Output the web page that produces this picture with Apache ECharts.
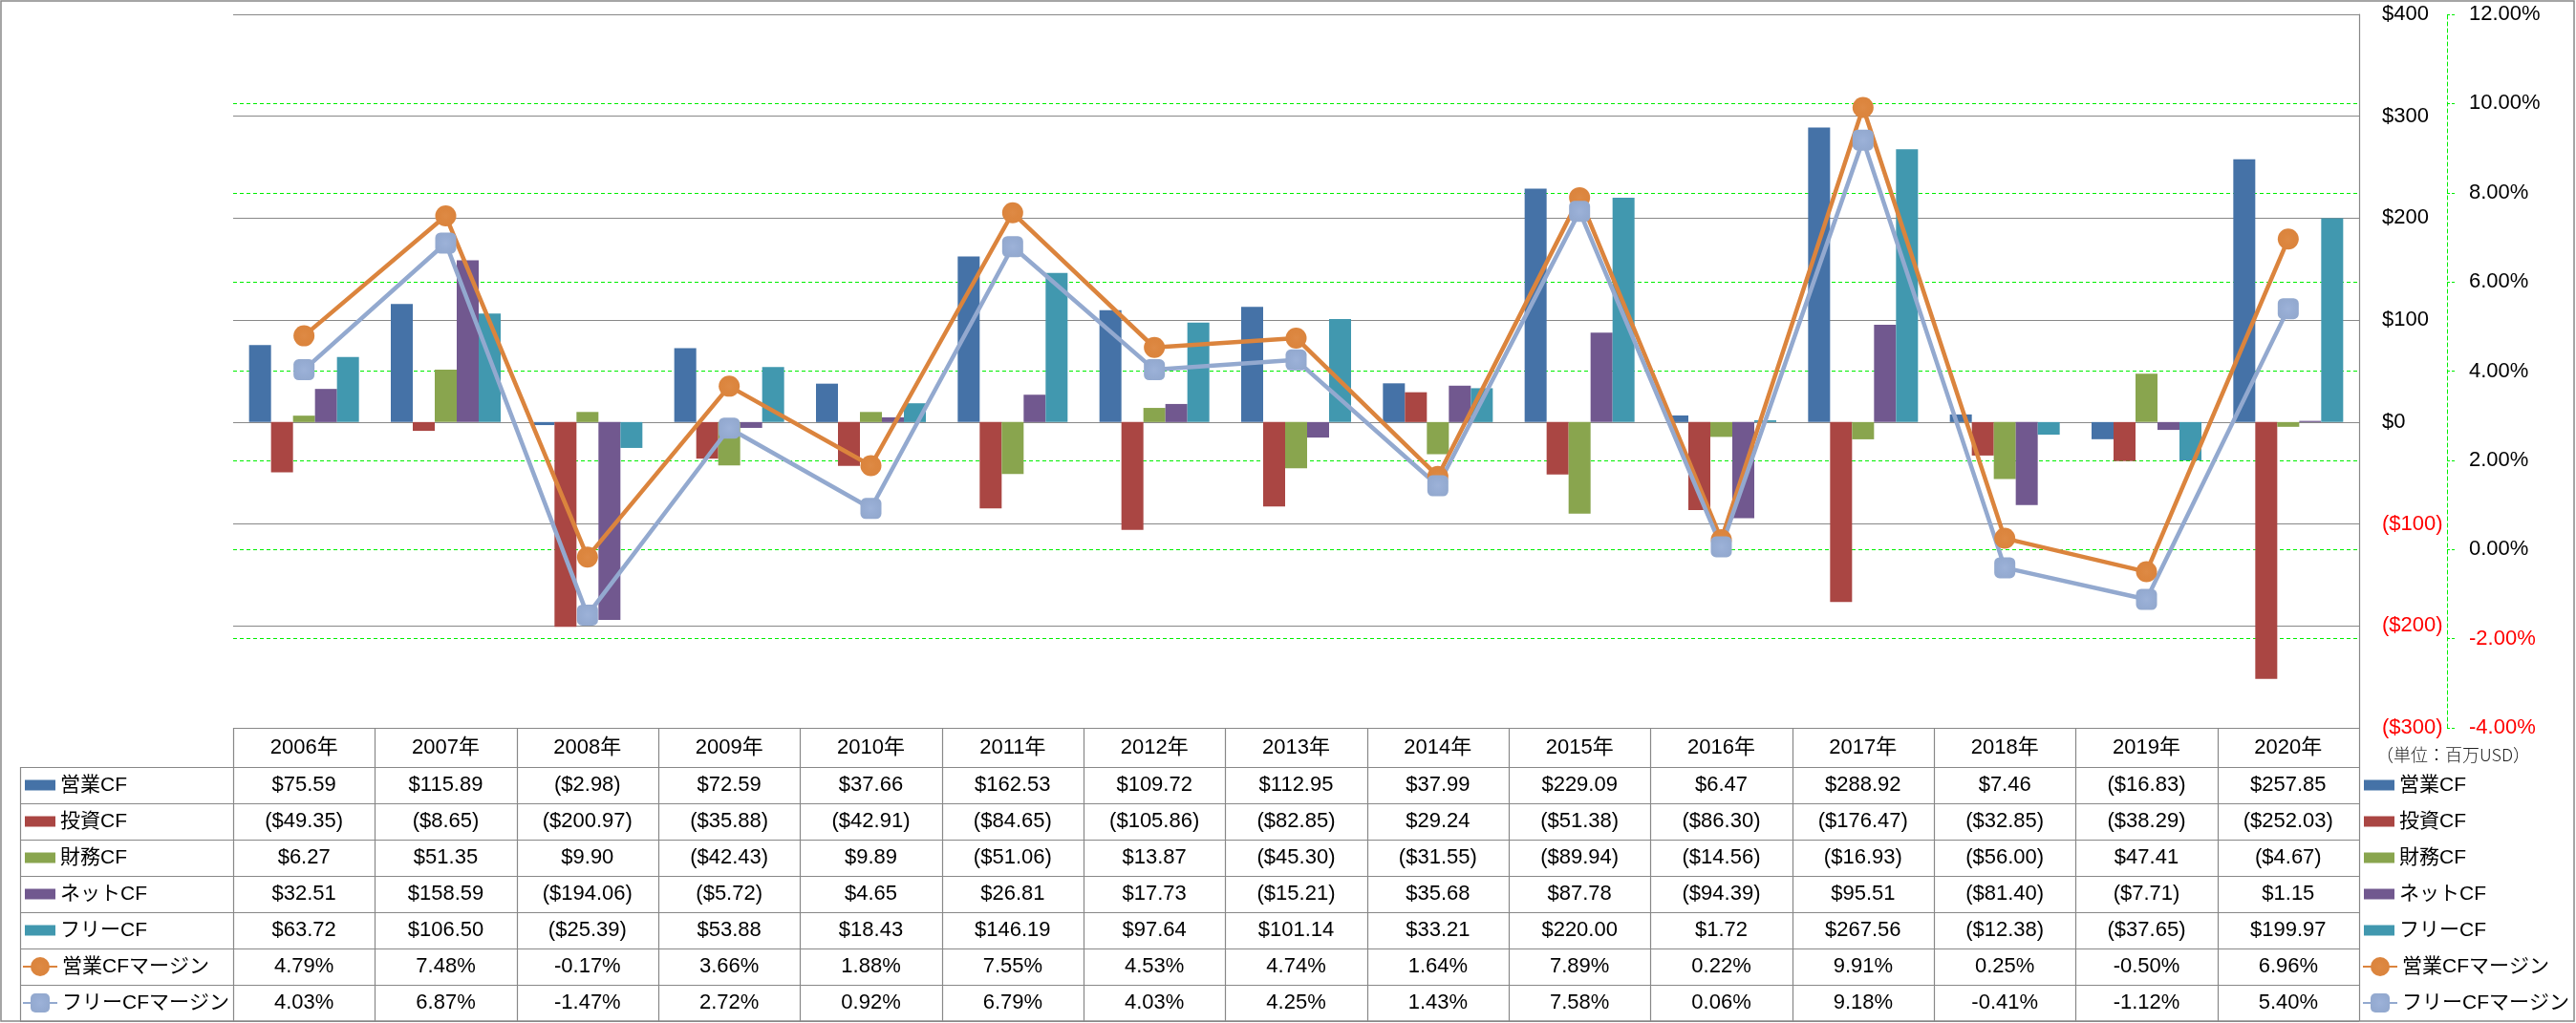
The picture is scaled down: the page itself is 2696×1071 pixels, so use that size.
<!DOCTYPE html>
<html><head><meta charset="utf-8">
<script src="https://cdn.jsdelivr.net/npm/echarts@6/dist/echarts.min.js"></script>
<style>html,body{margin:0;padding:0;background:#fff}#c{width:2696px;height:1071px}</style>
</head><body><div id="c"></div>
<script>
// ---------- data ----------
const years = ['2006年','2007年','2008年','2009年','2010年','2011年','2012年','2013年','2014年','2015年','2016年','2017年','2018年','2019年','2020年'];
const opCF   = [75.59, 115.89, -2.98, 72.59, 37.66, 162.53, 109.72, 112.95, 37.99, 229.09, 6.47, 288.92, 7.46, -16.83, 257.85];
const invCF  = [-49.35, -8.65, -200.97, -35.88, -42.91, -84.65, -105.86, -82.85, 29.24, -51.38, -86.30, -176.47, -32.85, -38.29, -252.03];
const finCF  = [6.27, 51.35, 9.90, -42.43, 9.89, -51.06, 13.87, -45.30, -31.55, -89.94, -14.56, -16.93, -56.00, 47.41, -4.67];
const netCF  = [32.51, 158.59, -194.06, -5.72, 4.65, 26.81, 17.73, -15.21, 35.68, 87.78, -94.39, 95.51, -81.40, -7.71, 1.15];
const freeCF = [63.72, 106.50, -25.39, 53.88, 18.43, 146.19, 97.64, 101.14, 33.21, 220.00, 1.72, 267.56, -12.38, -37.65, 199.97];
const opMargin   = [4.79, 7.48, -0.17, 3.66, 1.88, 7.55, 4.53, 4.74, 1.64, 7.89, 0.22, 9.91, 0.25, -0.50, 6.96];
const freeMargin = [4.03, 6.87, -1.47, 2.72, 0.92, 6.79, 4.03, 4.25, 1.43, 7.58, 0.06, 9.18, -0.41, -1.12, 5.40];
const barNames  = ['営業CF','投資CF','財務CF','ネットCF','フリーCF'];
const lineNames = ['営業CFマージン','フリーCFマージン'];
const usdAxis = {min: -300, max: 400, interval: 100};
const pctAxis = {min: -4, max: 12, interval: 2};
const unitText = '（単位：百万USD）';

// ---------- layout / style ----------
const W = 2696, H = 1071;
const L = 244, R = 2469, T = 15, B = 762;
const HEAD_H = 41, ROW_H = 38, TABLE_LEFT = 21;
const FONT = '"Liberation Sans", "Noto Sans CJK JP", sans-serif';
const COLORS = ['#4572A7','#AA4643','#89A54E','#71588F','#4198AF','#DB843D','#93A9CF'];
const GRAY = '#888888';
const GREEN = '#00EE00';

const fmtUsd = v => v < 0 ? '($' + (-v).toFixed(2) + ')' : '$' + v.toFixed(2);
const fmtPct = v => v.toFixed(2) + '%';
const barData = [opCF, invCF, finCF, netCF, freeCF];
const lineData = [opMargin, freeMargin];

const chart = echarts.init(document.getElementById('c'), null, {renderer: 'canvas'});

const series = [];
barNames.forEach((n, k) => series.push({
  name: n, type: 'bar', yAxisIndex: 0, data: barData[k],
  barWidth: 23, barGap: '0%', itemStyle: {color: COLORS[k]},
  emphasis: {disabled: true}
}));
const symbols = ['circle', 'roundRect'];
lineNames.forEach((n, k) => series.push({
  name: n, type: 'line', yAxisIndex: 1, data: lineData[k],
  symbol: symbols[k], symbolSize: 22, showAllSymbol: true,
  lineStyle: {width: 4.5, color: COLORS[5 + k]},
  itemStyle: {color: {type: 'radial', x: 0.5, y: 0.5, r: 0.5, colorStops: [
    {offset: 0, color: k ? '#9DB2D8' : '#DE8A45'}, {offset: 0.5, color: k ? '#97ADD4' : '#DC863F'}, {offset: 1, color: COLORS[5 + k]}]}},
  z: 5, emphasis: {disabled: true}
}));

// table lines
const graphics = [];
const colW = (R - L) / years.length;
const line = (x1, y1, x2, y2) => graphics.push({type: 'line', silent: true,
  shape: {x1, y1, x2, y2}, style: {stroke: GRAY, lineWidth: 1.2}});
line(L, B + 0.5, R, B + 0.5);
const rowsN = barNames.length + lineNames.length;
for (let r = 0; r <= rowsN; r++) {
  const y = Math.round(B + HEAD_H + r * ROW_H) + 0.5;
  line(TABLE_LEFT, y, R, y);
}
const tableBottom = B + HEAD_H + rowsN * ROW_H;
line(TABLE_LEFT + 0.5, B + HEAD_H, TABLE_LEFT + 0.5, tableBottom);
for (let c = 0; c <= years.length; c++) {
  const x = Math.round(L + c * colW) + 0.5;
  line(x, B, x, tableBottom);
}
graphics.push({type: 'rect', silent: true, shape: {x: 1, y: 1, width: W - 3, height: H - 3},
  style: {fill: 'none', stroke: GRAY, lineWidth: 1.5}});
graphics.push({type: 'text', silent: true, x: 2487, y: 790,
  style: {text: unitText, font: '300 18px "Noto Sans CJK JP"', fill: '#222', verticalAlign: 'middle', align: 'left'}});

const legendBase = {orient: 'vertical', padding: 0, itemGap: 10, selectedMode: false,
  textStyle: {fontSize: 21, lineHeight: 28, fontFamily: FONT, color: '#000'}};
const barLegendCenter = B + HEAD_H + ROW_H / 2;
const lineLegendCenter = B + HEAD_H + barNames.length * ROW_H + ROW_H / 2;

chart.setOption({
  animation: false,
  backgroundColor: '#fff',
  textStyle: {fontFamily: FONT},
  grid: {left: L, right: W - R, top: T, bottom: H - B, containLabel: false, outerBoundsMode: 'none'},
  legend: [
    Object.assign({}, legendBase, {left: TABLE_LEFT + 5, top: barLegendCenter - 14, itemWidth: 32, itemHeight: 11, icon: 'rect', data: barNames}),
    Object.assign({}, legendBase, {left: TABLE_LEFT + 2, top: lineLegendCenter - 14, itemWidth: 36, itemHeight: 25, data: lineNames}),
    Object.assign({}, legendBase, {left: R + 5, top: barLegendCenter - 14, itemWidth: 32, itemHeight: 11, icon: 'rect', data: barNames}),
    Object.assign({}, legendBase, {left: R + 3, top: lineLegendCenter - 14, itemWidth: 36, itemHeight: 25, data: lineNames})
  ],
  xAxis: {
    type: 'category', data: years, boundaryGap: true,
    axisLine: {show: false, onZero: false}, axisTick: {show: false}, splitLine: {show: false},
    axisLabel: {
      interval: 0, margin: 0, verticalAlign: 'top',
      formatter: (v, i) => {
        const cells = barData.map(a => fmtUsd(a[i])).concat(lineData.map(a => fmtPct(a[i])));
        return '{h|' + v + '}\n' + cells.map(c => '{v|' + c + '}').join('\n');
      },
      rich: {
        h: {fontSize: 22, lineHeight: HEAD_H, fontFamily: FONT, color: '#000'},
        v: {fontSize: 22, lineHeight: ROW_H, fontFamily: FONT, color: '#000'}
      }
    }
  },
  yAxis: [
    {
      type: 'value', position: 'right', min: usdAxis.min, max: usdAxis.max, interval: usdAxis.interval,
      axisLine: {show: true, lineStyle: {color: GRAY, width: 1.2}}, axisTick: {show: false},
      splitLine: {show: true, lineStyle: {color: GRAY, width: 1.2}},
      axisLabel: {margin: 24, fontSize: 22, fontFamily: FONT,
        formatter: v => v < 0 ? '($' + (-v) + ')' : '$' + v,
        color: v => (Number(v) < 0 ? '#FF0000' : '#000')}
    },
    {
      type: 'value', position: 'right', offset: 92, min: pctAxis.min, max: pctAxis.max, interval: pctAxis.interval,
      axisLine: {show: true, lineStyle: {color: GREEN, width: 1, type: [4, 3]}},
      axisTick: {show: true, length: 8, lineStyle: {color: GREEN, width: 1, type: [3, 2]}},
      splitLine: {show: true, showMinLine: false, showMaxLine: false, lineStyle: {color: GREEN, width: 1.2, type: [4, 3]}},
      axisLabel: {margin: 23, fontSize: 22, fontFamily: FONT,
        formatter: v => v.toFixed(2) + '%',
        color: v => (Number(v) < 0 ? '#FF0000' : '#000')}
    }
  ],
  series: series,
  graphic: graphics
});
</script>
</body></html>
